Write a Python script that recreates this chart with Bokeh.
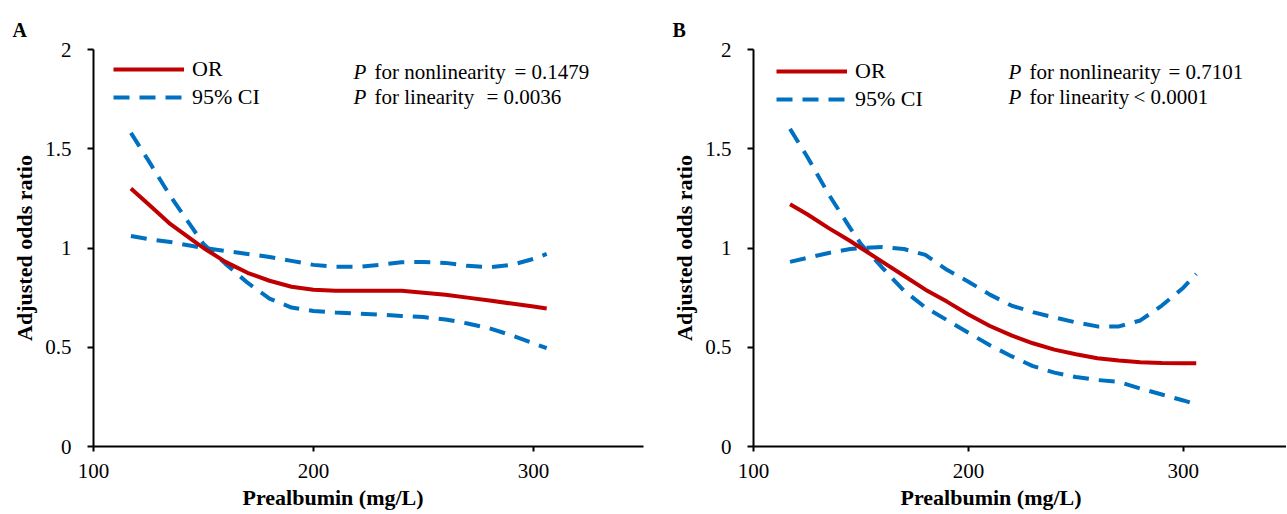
from bokeh.plotting import figure
from bokeh.models import Range1d, FixedTicker, NumeralTickFormatter, Legend, LegendItem, Label, Title
from bokeh.layouts import row
from bokeh.embed import file_html
from bokeh.resources import INLINE

# ---------------- data ----------------
prealbumin = [117, 125, 135, 145, 150, 160, 170, 180, 190, 200, 210,
              220, 230, 240, 250, 260, 270, 280, 290, 300, 306]

# Panel A
or_a = [1.30, 1.22, 1.12, 1.04, 1.00, 0.93, 0.875, 0.835, 0.805, 0.79, 0.785,
        0.785, 0.785, 0.785, 0.775, 0.765, 0.75, 0.735, 0.72, 0.705, 0.695]
ci1_a = [1.58, 1.44, 1.26, 1.10, 1.02, 0.92, 0.825, 0.745, 0.70, 0.683, 0.675,
         0.67, 0.665, 0.658, 0.652, 0.64, 0.62, 0.595, 0.56, 0.52, 0.495]
ci2_a = [1.06, 1.045, 1.03, 1.01, 1.00, 0.985, 0.97, 0.955, 0.935, 0.915, 0.905,
         0.905, 0.915, 0.928, 0.93, 0.925, 0.91, 0.903, 0.915, 0.945, 0.97]

# Panel B
or_b = [1.22, 1.17, 1.10, 1.035, 1.00, 0.93, 0.86, 0.79, 0.73, 0.665, 0.607,
        0.56, 0.52, 0.488, 0.465, 0.445, 0.433, 0.425, 0.421, 0.42, 0.42]
ci1_b = [1.60, 1.46, 1.27, 1.10, 1.02, 0.90, 0.785, 0.70, 0.637, 0.573, 0.51,
         0.455, 0.405, 0.372, 0.35, 0.335, 0.325, 0.292, 0.262, 0.232, 0.212]
ci2_b = [0.93, 0.95, 0.975, 0.995, 1.00, 1.005, 0.995, 0.965, 0.89, 0.83, 0.765,
         0.71, 0.677, 0.65, 0.625, 0.605, 0.605, 0.635, 0.71, 0.80, 0.87]

x_ticks = [100, 200, 300]
y_ticks = [0, 0.5, 1, 1.5, 2]

panel_letters = ["A", "B"]
p_nonlin = ["= 0.1479", "= 0.7101"]
p_lin = ["= 0.0036", "< 0.0001"]
x_label = "Prealbumin (mg/L)"
y_label = "Adjusted odds ratio"
legend_labels = ["OR", "95% CI"]

FONT = "'Liberation Serif'"
RED = "#C00000"
BLUE = "#0070C0"


def make_panel(letter, x, y_or, y_ci1, y_ci2, nonlin, lin, width, border_left,
               border_right, x_end, legend_xy, ptext_x, eq_x1, eq_x2, xlabel_off):
    p = figure(width=width, height=513, output_backend="svg", toolbar_location=None,
               x_range=Range1d(100, x_end), y_range=Range1d(0, 2),
               min_border_left=border_left, min_border_right=border_right,
               min_border_top=49, min_border_bottom=67)
    p.outline_line_color = None
    p.xgrid.visible = False
    p.ygrid.visible = False
    p.background_fill_color = "white"

    r_ci1 = p.line(x, y_ci1, line_color=BLUE, line_width=4, line_dash="16 10")
    r_ci2 = p.line(x, y_ci2, line_color=BLUE, line_width=4, line_dash="16 10")
    r_or = p.line(x, y_or, line_color=RED, line_width=4)

    for ax in (p.xaxis[0], p.yaxis[0]):
        ax.axis_line_color = "black"
        ax.axis_line_width = 2
        ax.major_tick_line_color = "black"
        ax.major_tick_line_width = 2
        ax.major_tick_in = 0
        ax.minor_tick_line_color = None
        ax.major_label_text_font = FONT
        ax.major_label_text_font_size = "21px"
        ax.major_label_text_color = "black"
        ax.axis_label_text_font = FONT
        ax.axis_label_text_font_size = "22px"
        ax.axis_label_text_font_style = "bold"
        ax.axis_label_text_color = "black"

    p.xaxis.ticker = FixedTicker(ticks=x_ticks)
    p.xaxis.major_tick_out = 5
    p.xaxis.major_label_standoff = 12

    p.yaxis.ticker = FixedTicker(ticks=y_ticks)
    p.yaxis.formatter = NumeralTickFormatter(format="0.[0]")
    p.yaxis.major_tick_out = 6
    p.yaxis.major_label_standoff = 16
    p.yaxis.axis_label = y_label
    p.yaxis.axis_label_standoff = 5

    legend = Legend(items=[LegendItem(label=legend_labels[0], renderers=[r_or]),
                           LegendItem(label=legend_labels[1], renderers=[r_ci1])],
                    location=legend_xy, orientation="vertical",
                    glyph_width=71, glyph_height=24, label_height=24,
                    label_standoff=8, spacing=2, padding=0, margin=0,
                    label_text_font=FONT, label_text_font_size="22px",
                    label_text_color="black",
                    border_line_alpha=0, background_fill_alpha=0)
    p.add_layout(legend)

    def lab(text, xx, yy, style="normal"):
        p.add_layout(Label(x=xx, y=yy, x_units="screen", y_units="screen", text=text,
                           text_font=FONT, text_font_size="21px", text_font_style=style,
                           text_color="black", text_align="left",
                           text_baseline="alphabetic"))

    # p-value annotations
    lab("P", ptext_x, 375, style="italic")
    lab("for nonlinearity", ptext_x + 21, 375)
    lab(nonlin, eq_x1, 375)
    lab("P", ptext_x, 350, style="italic")
    lab("for linearity", ptext_x + 21, 350)
    lab(lin, eq_x2, 350)

    # panel letter
    p.add_layout(Title(text=letter, align="left", vertical_align="top", offset=-81,
                       standoff=14, text_font=FONT, text_font_size="20px",
                       text_font_style="bold", text_color="black"), "above")

    # x axis title (offset to the left as in the original)
    p.add_layout(Title(text=x_label, align="left", offset=xlabel_off, standoff=4,
                       text_font=FONT, text_font_size="22px", text_font_style="bold",
                       text_color="black"), "below")
    return p


pA = make_panel(panel_letters[0], prealbumin, or_a, ci1_a, ci2_a, p_nonlin[0], p_lin[0],
                width=660, border_left=93, border_right=17, x_end=350,
                legend_xy=(20, 336), ptext_x=260, eq_x1=421, eq_x2=393, xlabel_off=149)
pB = make_panel(panel_letters[1], prealbumin, or_b, ci1_b, ci2_b, p_nonlin[1], p_lin[1],
                width=626, border_left=93, border_right=0, x_end=348,
                legend_xy=(23, 334), ptext_x=255, eq_x1=415, eq_x2=380, xlabel_off=147)

layout = row(pA, pB)
open("out.html", "w").write(file_html(layout, INLINE))
